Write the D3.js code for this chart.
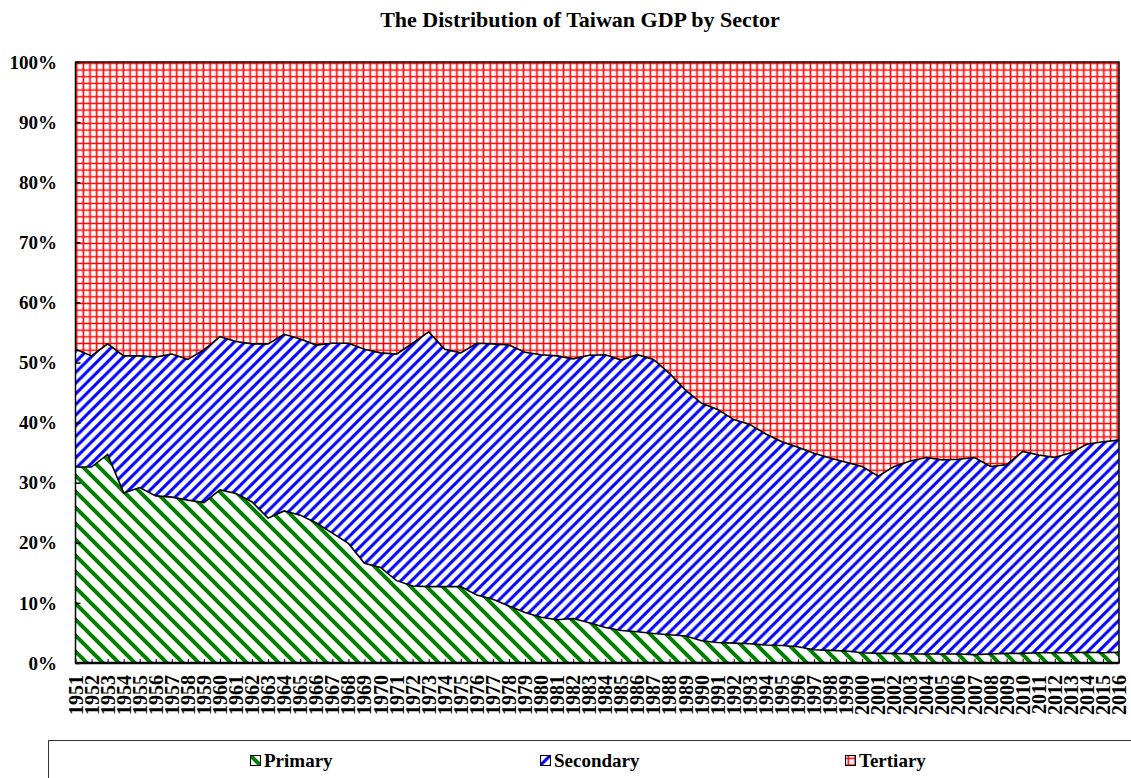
<!DOCTYPE html>
<html>
<head>
<meta charset="utf-8">
<script src="https://cdn.jsdelivr.net/npm/d3@7"></script>
<style>
  body { margin: 0; background: #fff; }
  text { font-family: "Liberation Serif", "Times New Roman", serif; font-weight: bold; fill: #000; }
</style>
</head>
<body>
<svg id="chart" width="1131" height="778"></svg>
<script>
const years = d3.range(1951, 2017);

// shares of GDP (%)
const primary = [
  32.6, 32.6, 34.7, 28.3, 29.2, 27.8, 27.6, 27.1, 26.7, 28.8,
  28.2, 26.8, 24.1, 25.3, 24.6, 23.3, 21.6, 19.9, 16.6, 15.9,
  13.7, 12.8, 12.7, 12.7, 12.7, 11.3, 10.6, 9.5, 8.4, 7.6,
  7.2, 7.4, 6.7, 5.9, 5.4, 5.2, 4.9, 4.7, 4.5, 3.7,
  3.4, 3.3, 3.2, 3.0, 2.9, 2.7, 2.2, 2.1, 2.0, 1.7,
  1.6, 1.6, 1.5, 1.5, 1.5, 1.5, 1.4, 1.5, 1.6, 1.6,
  1.7, 1.7, 1.7, 1.8, 1.7, 1.8
];
const secondary = [
  19.6, 18.5, 18.4, 22.8, 21.9, 23.1, 23.8, 23.4, 25.4, 25.5,
  25.3, 26.3, 29.0, 29.4, 29.3, 29.6, 31.6, 33.3, 35.6, 35.7,
  37.7, 40.4, 42.4, 39.5, 38.9, 41.9, 42.5, 43.4, 43.3, 43.7,
  43.9, 43.2, 44.5, 45.4, 45.0, 46.1, 45.6, 43.5, 40.9, 39.5,
  38.8, 37.2, 36.5, 35.1, 33.9, 33.2, 32.7, 32.0, 31.4, 31.0,
  29.5, 31.1, 32.1, 32.7, 32.3, 32.4, 32.8, 31.2, 31.4, 33.6,
  32.9, 32.5, 33.3, 34.6, 35.1, 35.3
];
const tertiary = [
  47.8, 48.9, 46.9, 48.9, 48.9, 49.1, 48.6, 49.5, 47.9, 45.7,
  46.5, 46.9, 46.9, 45.3, 46.1, 47.1, 46.8, 46.8, 47.8, 48.4,
  48.6, 46.8, 44.9, 47.8, 48.4, 46.8, 46.9, 47.1, 48.3, 48.7,
  48.9, 49.4, 48.8, 48.7, 49.6, 48.7, 49.5, 51.8, 54.6, 56.8,
  57.8, 59.5, 60.3, 61.9, 63.2, 64.1, 65.1, 65.9, 66.6, 67.3,
  68.9, 67.3, 66.4, 65.8, 66.2, 66.1, 65.8, 67.3, 67.0, 64.8,
  65.4, 65.8, 65.0, 63.6, 63.2, 62.9
];
const sectors = ['Primary', 'Secondary', 'Tertiary'];
const yTicks = [0, 0.1, 0.2, 0.3, 0.4, 0.5, 0.6, 0.7, 0.8, 0.9, 1];

const svg = d3.select('#chart');
const plot = { left: 75.5, right: 1119, top: 62, bottom: 663 };

const x = d3.scaleLinear().domain([years[0], years[years.length - 1]]).range([plot.left, plot.right]);
const y = d3.scaleLinear().domain([0, 1]).range([plot.bottom, plot.top]);

// fill patterns
const defs = svg.append('defs');

function stripes (id, size, color, width, dir) {
  const p = defs.append('pattern')
    .attr('id', id)
    .attr('patternUnits', 'userSpaceOnUse')
    .attr('width', size)
    .attr('height', size);
  p.append('rect').attr('width', size).attr('height', size).attr('fill', '#fff');
  const s = size, e = 3;
  const d = dir === 'down'
    ? `M${-e},${-e}L${s + e},${s + e}M${-e},${s - e}L${e},${s + e}M${s - e},${-e}L${s + e},${e}`
    : `M${-e},${s + e}L${s + e},${-e}M${-e},${e}L${e},${-e}M${s - e},${s + e}L${s + e},${s - e}`;
  p.append('path').attr('d', d).attr('stroke', color).attr('stroke-width', width).attr('fill', 'none');
}

stripes('pat-Primary', 16, '#008000', 4, 'down');
stripes('pat-Secondary', 10.67, '#0000ff', 3, 'up');

const grid = defs.append('pattern')
  .attr('id', 'pat-Tertiary')
  .attr('patternUnits', 'userSpaceOnUse')
  .attr('width', 6.67)
  .attr('height', 6.67);
grid.append('rect').attr('width', 6.67).attr('height', 6.67).attr('fill', '#fff');
grid.append('path')
  .attr('d', 'M0,3.33H6.67M3.33,0V6.67')
  .attr('stroke', '#ff0000')
  .attr('stroke-width', 1.6);

// stacked areas
const rows = years.map((yr, i) => ({
  year: yr,
  Primary: primary[i],
  Secondary: secondary[i],
  Tertiary: tertiary[i]
}));

const series = d3.stack().keys(sectors).offset(d3.stackOffsetExpand)(rows);

const area = d3.area()
  .x(d => x(d.data.year))
  .y0(d => y(d[0]))
  .y1(d => y(d[1]));

const topLine = d3.line()
  .x(d => x(d.data.year))
  .y(d => y(d[1]));

svg.append('g')
  .selectAll('path')
  .data(series)
  .join('path')
  .attr('d', area)
  .attr('fill', d => `url(#pat-${d.key})`);

svg.append('g')
  .selectAll('path')
  .data(series.slice(0, 2))
  .join('path')
  .attr('d', topLine)
  .attr('fill', 'none')
  .attr('stroke', '#000')
  .attr('stroke-width', 1.6);

// frame
svg.append('rect')
  .attr('x', plot.left)
  .attr('y', plot.top)
  .attr('width', plot.right - plot.left)
  .attr('height', plot.bottom - plot.top)
  .attr('fill', 'none')
  .attr('stroke', '#000')
  .attr('stroke-width', 1.5);

svg.append('line')
  .attr('x1', plot.left).attr('x2', plot.right)
  .attr('y1', plot.bottom).attr('y2', plot.bottom)
  .attr('stroke', '#000').attr('stroke-width', 2.5);

// y axis, ticks pointing inward
const yAxis = svg.append('g')
  .attr('transform', `translate(${plot.left},0)`)
  .call(d3.axisRight(y).tickValues(yTicks).tickSize(5).tickFormat(''));
yAxis.select('.domain').remove();
yAxis.selectAll('line').attr('stroke', '#000').attr('stroke-width', 1.5);

svg.append('g')
  .selectAll('text')
  .data(yTicks)
  .join('text')
  .attr('x', 57)
  .attr('y', d => y(d))
  .attr('dy', '0.35em')
  .attr('text-anchor', 'end')
  .style('font-size', '19px')
  .text(d3.format('.0%'));

// x axis, ticks pointing up
const xAxis = svg.append('g')
  .attr('transform', `translate(0,${plot.bottom})`)
  .call(d3.axisTop(x).tickValues(years).tickSize(4).tickFormat(''));
xAxis.select('.domain').remove();
xAxis.selectAll('line').attr('stroke', '#000').attr('stroke-width', 1);

svg.append('g')
  .selectAll('text')
  .data(years)
  .join('text')
  .attr('transform', d => `translate(${x(d)},${plot.bottom + 12}) rotate(-90)`)
  .attr('dy', '0.35em')
  .attr('text-anchor', 'end')
  .style('font-size', '20px')
  .text(d => d);

// title
svg.append('text')
  .attr('x', 580)
  .attr('y', 27)
  .attr('text-anchor', 'middle')
  .style('font-size', '22px')
  .text('The Distribution of Taiwan GDP by Sector');

// legend
svg.append('rect')
  .attr('x', 48.5)
  .attr('y', 740.5)
  .attr('width', 1100)
  .attr('height', 60)
  .attr('fill', '#fff')
  .attr('stroke', '#333')
  .attr('stroke-width', 1);

const legendX = [250, 540, 845];
const legend = svg.append('g')
  .selectAll('g')
  .data(sectors)
  .join('g')
  .attr('transform', (d, i) => `translate(${legendX[i]},755)`);

legend.append('rect')
  .attr('x', 0.5)
  .attr('y', 0.5)
  .attr('width', 10)
  .attr('height', 10)
  .attr('fill', d => `url(#pat-${d})`)
  .attr('stroke', '#000')
  .attr('stroke-width', 1);

legend.append('text')
  .attr('x', 14)
  .attr('y', 12)
  .style('font-size', '19px')
  .text(d => d);
</script>
</body>
</html>
